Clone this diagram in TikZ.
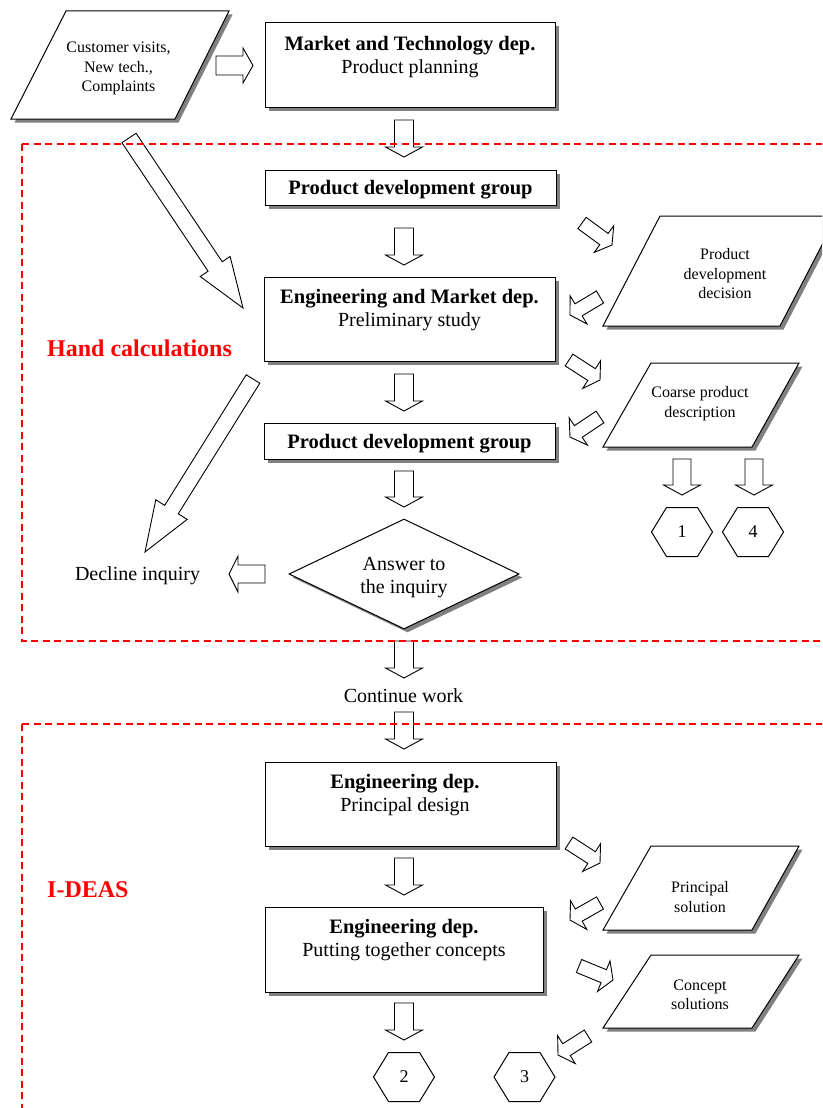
\documentclass[tikz,border=0pt]{standalone}
\usepackage{fontspec}
\setmainfont{Liberation Serif}
\usetikzlibrary{calc,shapes.geometric,shadows}
\newcommand{\mainf}{\fontsize{20}{23}\selectfont}
\newcommand{\boldf}{\fontsize{20.5}{23}\selectfont\bfseries}
\newcommand{\smallf}{\fontsize{16}{19.5}\selectfont}
% block arrow: tail, tip, half shaft, half head, head length
\newcommand{\barrow}[5]{%
  \coordinate (bH) at ($(#2)!#5!(#1)$);
  \draw[blockarr] ($(#1)!#3!90:(#2)$) -- ($(bH)!#3!90:(#2)$) -- ($(bH)!#4!90:(#2)$) -- (#2)
    -- ($(bH)!#4!-90:(#2)$) -- ($(bH)!#3!-90:(#2)$) -- ($(#1)!#3!-90:(#2)$) -- cycle;}
\newcommand{\hexa}[4]{%
  \node[hexnum] (#1) at (#2,#3) {#4};
  \draw[line width=1pt] ($(#1)+(-30.5,0)$) -- ($(#1)+(-15.5,24.5)$) -- ($(#1)+(15.5,24.5)$)
    -- ($(#1)+(30.5,0)$) -- ($(#1)+(15.5,-24.5)$) -- ($(#1)+(-15.5,-24.5)$) -- cycle;}
\tikzset{
  shadowed/.style={drop shadow={shadow xshift=3.5pt,shadow yshift=-3.5pt,opacity=1,fill=black!50}},
  box/.style={draw,line width=1pt,fill=white,inner sep=0pt,shadowed},
  txt/.style={align=center,inner sep=0pt,font=\mainf},
  smalltxt/.style={align=center,inner sep=0pt,font=\smallf},
  para/.style={draw,line width=1pt,fill=white,shadowed,line join=miter},
  blockarr/.style={draw,line width=0.9pt,fill=white,line join=miter},
  hexnum/.style={inner sep=0pt,font=\fontsize{18}{20}\selectfont},
  region/.style={draw=red,line width=1.6pt,dash pattern=on 7pt off 4.5pt},
  redlabel/.style={text=red,font=\fontsize{24}{26}\selectfont\bfseries,inner sep=0pt,anchor=west}
}
\begin{document}
\begin{tikzpicture}[x=1pt,y=-1pt]
\useasboundingbox (0,0) rectangle (822,1108);
\clip (0,0) rectangle (822,1108);

% ---------- boxes ----------
\node[box,minimum width=290pt,minimum height=84pt] (market) at (410,65) {};
\node[txt] (marketT) at (410,57.5) {{\boldf Market and Technology dep.}\\Product planning};
\node[box,minimum width=291pt,minimum height=35pt] (pdg1) at (410.5,187.5) {};
\node[txt,font=\boldf] (pdg1T) at (410.5,190) {Product development group};
\node[box,minimum width=291pt,minimum height=84pt] (em) at (409.5,319) {};
\node[txt] (emT) at (409.5,310.5) {{\boldf Engineering and Market dep.}\\Preliminary study};
\node[box,minimum width=291pt,minimum height=36pt] (pdg2) at (409.5,441) {};
\node[txt,font=\boldf] (pdg2T) at (409.5,443.5) {Product development group};
\node[box,minimum width=291pt,minimum height=84pt] (eng1) at (410.5,804) {};
\node[txt] (eng1T) at (405,795) {{\boldf Engineering dep.}\\Principal design};
\node[box,minimum width=278pt,minimum height=85pt] (eng2) at (404,949.5) {};
\node[txt] (eng2T) at (404,940.5) {{\boldf Engineering dep.}\\Putting together concepts};

% ---------- parallelograms ----------
\draw[para] (66,11) -- (229,11) -- (175,119) -- (11,119) -- cycle;
\node[smalltxt] (cust) at (118.5,68.5) {Customer visits,\\New tech.,\\Complaints};
\draw[para] (660,216) -- (837,216) -- (780,326) -- (603,326) -- cycle;
\node[smalltxt] (pdd) at (725,274) {Product\\development\\decision};
\draw[para] (651,363) -- (799,363) -- (752,447) -- (603,447) -- cycle;
\node[smalltxt] (coarse) at (700,403.5) {Coarse product\\description};
\draw[para] (651,846) -- (799,846) -- (752,930) -- (603,930) -- cycle;
\node[smalltxt] (princ) at (700,897) {Principal\\solution};
\draw[para] (651,955) -- (799,955) -- (752,1028) -- (603,1028) -- cycle;
\node[smalltxt] (concept) at (700,995) {Concept\\solutions};

% ---------- decision ----------
\node[diamond,draw,line width=1pt,fill=white,shadowed,minimum width=230pt,minimum height=110pt,
      aspect=2.09,inner sep=0pt] (ans) at (404,574) {};
\node[txt] (ansT) at (404,577.5) {Answer to\\the inquiry};
\node[txt] (decline) at (137.5,575.5) {Decline inquiry};
\node[txt] (cont) at (403.5,696) {Continue work};

% ---------- hexagons ----------
\hexa{h1}{682}{532}{1}
\hexa{h4}{753}{532}{4}
\hexa{h2}{404}{1077}{2}
\hexa{h3}{524.5}{1077}{3}

% ---------- arrow end points ----------
\coordinate (r1s) at (216,65.5);  \coordinate (r1e) at (253,65.5);
\coordinate (d1s) at (404,120);   \coordinate (d1e) at (404,157);
\coordinate (d2s) at (404,228);   \coordinate (d2e) at (404,265);
\coordinate (d3s) at (404,374);   \coordinate (d3e) at (404,411);
\coordinate (d4s) at (404,471);   \coordinate (d4e) at (404,507);
\coordinate (d5s) at (404,641);   \coordinate (d5e) at (404,678);
\coordinate (d6s) at (404,712);   \coordinate (d6e) at (404,749);
\coordinate (d7s) at (404,858);   \coordinate (d7e) at (404,895);
\coordinate (d8s) at (404,1003);  \coordinate (d8e) at (404,1040);
\coordinate (d9s) at (682,459);   \coordinate (d9e) at (682,495);
\coordinate (d10s) at (754,459);  \coordinate (d10e) at (754,495);
\coordinate (l1s) at (265,574);   \coordinate (l1e) at (229,574);
\coordinate (a1s) at (582,223);   \coordinate (a1e) at (612,245);
\coordinate (a2s) at (600,297);   \coordinate (a2e) at (570,315);
\coordinate (a3s) at (569,360);   \coordinate (a3e) at (600,380);
\coordinate (a4s) at (600,417);   \coordinate (a4e) at (570,437);
\coordinate (a5s) at (569,843);   \coordinate (a5e) at (600,863);
\coordinate (a6s) at (600,903);   \coordinate (a6e) at (570,920);
\coordinate (a7s) at (579,966);   \coordinate (a7e) at (613,980);
\coordinate (a8s) at (588,1036);  \coordinate (a8e) at (558,1055);
\coordinate (b1s) at (129,138);   \coordinate (b1e) at (243,308);
\coordinate (b2s) at (253,379);   \coordinate (b2e) at (145,552);

% ---------- block arrows ----------
\barrow{r1s}{r1e}{9.5pt}{17.5pt}{10pt}
\barrow{d1s}{d1e}{9.5pt}{18.5pt}{10pt}
\barrow{d2s}{d2e}{9.5pt}{18.5pt}{10pt}
\barrow{d3s}{d3e}{9.5pt}{18.5pt}{10pt}
\barrow{d4s}{d4e}{9.5pt}{18.5pt}{10pt}
\barrow{d5s}{d5e}{9.5pt}{18.5pt}{10pt}
\barrow{d6s}{d6e}{9.5pt}{18.5pt}{10pt}
\barrow{d7s}{d7e}{9.5pt}{18.5pt}{10pt}
\barrow{d8s}{d8e}{9.5pt}{18.5pt}{10pt}
\barrow{d9s}{d9e}{9pt}{18.5pt}{10pt}
\barrow{d10s}{d10e}{9pt}{18.5pt}{10pt}
\barrow{l1s}{l1e}{9pt}{18pt}{9pt}
\barrow{a1s}{a1e}{7pt}{16.5pt}{10pt}
\barrow{a2s}{a2e}{7pt}{16.5pt}{10pt}
\barrow{a3s}{a3e}{7pt}{16.5pt}{10pt}
\barrow{a4s}{a4e}{7pt}{16.5pt}{10pt}
\barrow{a5s}{a5e}{7pt}{16.5pt}{10pt}
\barrow{a6s}{a6e}{7pt}{16.5pt}{10pt}
\barrow{a7s}{a7e}{7pt}{16.5pt}{10pt}
\barrow{a8s}{a8e}{7pt}{16.5pt}{10pt}
\barrow{b1s}{b1e}{8.5pt}{18pt}{50pt}
\barrow{b2s}{b2e}{8pt}{18.5pt}{50pt}

% ---------- regions ----------
\draw[region] (22,144) -- (830,144);
\draw[region] (22,144) -- (22,641) -- (830,641);
\draw[region] (22,724) -- (830,724);
\draw[region] (22,724) -- (22,1115);
\node[redlabel] (hand) at (47,348) {Hand calculations};
\node[redlabel] (ideas) at (47,890) {I-DEAS};
\end{tikzpicture}
\end{document}
